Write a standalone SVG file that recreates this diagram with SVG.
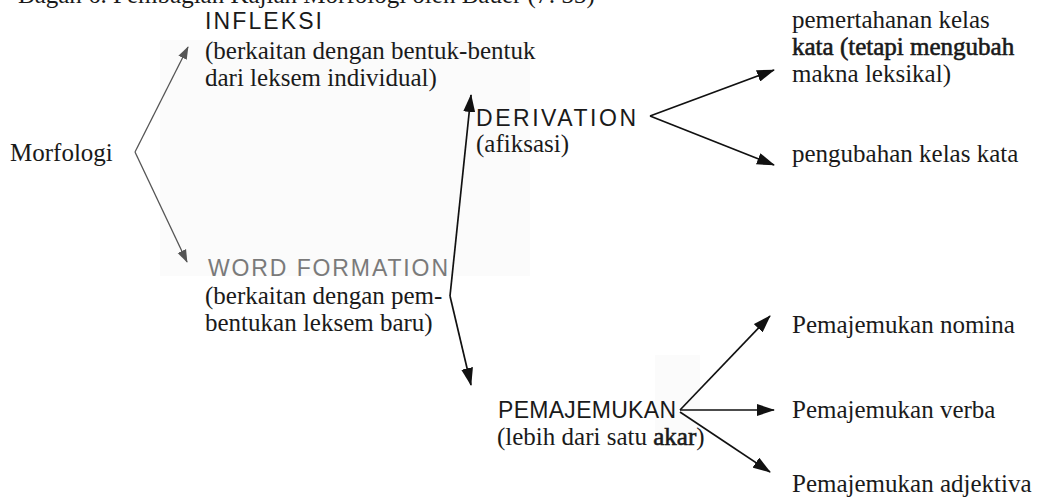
<svg xmlns="http://www.w3.org/2000/svg" width="1054" height="497" viewBox="0 0 1054 497">
<defs>
<style>
.t{font-family:"Liberation Serif",serif;font-size:25px;fill:#1a1a1a}
.c{font-family:"Liberation Sans",sans-serif;font-size:23px;fill:#1a1a1a}
.g{fill:#7a7a7a}
.ln{stroke:#111;stroke-width:1.7;fill:none}
.lg{stroke:#555;stroke-width:1.3;fill:none}
.b{stroke:#1a1a1a;stroke-width:0.6}
</style>
<marker id="ah" viewBox="0 0 18 12" refX="17" refY="6" markerWidth="18" markerHeight="12" markerUnits="userSpaceOnUse" orient="auto">
<path d="M0,0 L18,6 L0,12 Z" fill="#111"/>
</marker>
<marker id="ahg" viewBox="0 0 14 10" refX="13" refY="5" markerWidth="13" markerHeight="10" markerUnits="userSpaceOnUse" orient="auto">
<path d="M0,0 L14,5 L0,10 Z" fill="#555"/>
</marker>
</defs>
<rect width="1054" height="497" fill="#fff"/>
<rect x="160" y="40" width="370" height="236" fill="#fbfbfb"/>
<rect x="655" y="355" width="45" height="85" fill="#fbfbfb"/>
<text class="t" x="18" y="3" font-size="26">Bagan 6. Pembagian Kajian Morfologi oleh Bauer (7: 33)</text>
<g id="morfologi"><text class="t" x="10" y="161">Morfologi</text></g>
<g id="infleksi">
<text class="c" x="205" y="29" textLength="117" lengthAdjust="spacing">INFLEKSI</text>
<text class="t" x="205" y="59">(berkaitan dengan bentuk-bentuk</text>
<text class="t" x="205" y="86">dari leksem individual)</text>
</g>
<g id="wordformation">
<text class="c g" x="208" y="276" textLength="240" lengthAdjust="spacing">WORD FORMATION</text>
<text class="t" x="205" y="304">(berkaitan dengan pem-</text>
<text class="t" x="205" y="331">bentukan leksem baru)</text>
</g>
<g id="derivation">
<text class="c" x="476" y="126" textLength="160" lengthAdjust="spacing">DERIVATION</text>
<text class="t" x="476" y="152">(afiksasi)</text>
</g>
<g id="pemertahanan">
<text class="t" x="792" y="28">pemertahanan kelas</text>
<text class="t b" x="792" y="55">kata (tetapi mengubah</text>
<text class="t" x="792" y="82">makna leksikal)</text>
</g>
<g id="pengubahan"><text class="t" x="792" y="162">pengubahan kelas kata</text></g>
<g id="pemajemukan">
<text class="c" x="498" y="418" textLength="178" lengthAdjust="spacing">PEMAJEMUKAN</text>
<text class="t" x="497" y="445">(lebih dari satu <tspan class="b">akar</tspan>)</text>
</g>
<g id="nomina"><text class="t" x="792" y="333">Pemajemukan nomina</text></g>
<g id="verba"><text class="t" x="792" y="418">Pemajemukan verba</text></g>
<g id="adjektiva"><text class="t" x="792" y="492">Pemajemukan adjektiva</text></g>
<g id="connectors">
<path class="lg" d="M135,152 L188,47" marker-end="url(#ahg)"/>
<path class="lg" d="M135,152 L187,262" marker-end="url(#ahg)"/>
<path class="ln" d="M450,296 L471,95" marker-end="url(#ah)"/>
<path class="ln" d="M450,296 L471,385" marker-end="url(#ah)"/>
<path class="ln" d="M650,116 L774,70" marker-end="url(#ah)"/>
<path class="ln" d="M650,116 L774,165" marker-end="url(#ah)"/>
<path class="ln" d="M680,410 L770,316" marker-end="url(#ah)"/>
<path class="ln" d="M680,410 L774,410" marker-end="url(#ah)"/>
<path class="ln" d="M680,412 L770,472" marker-end="url(#ah)"/>
</g>
</svg>
